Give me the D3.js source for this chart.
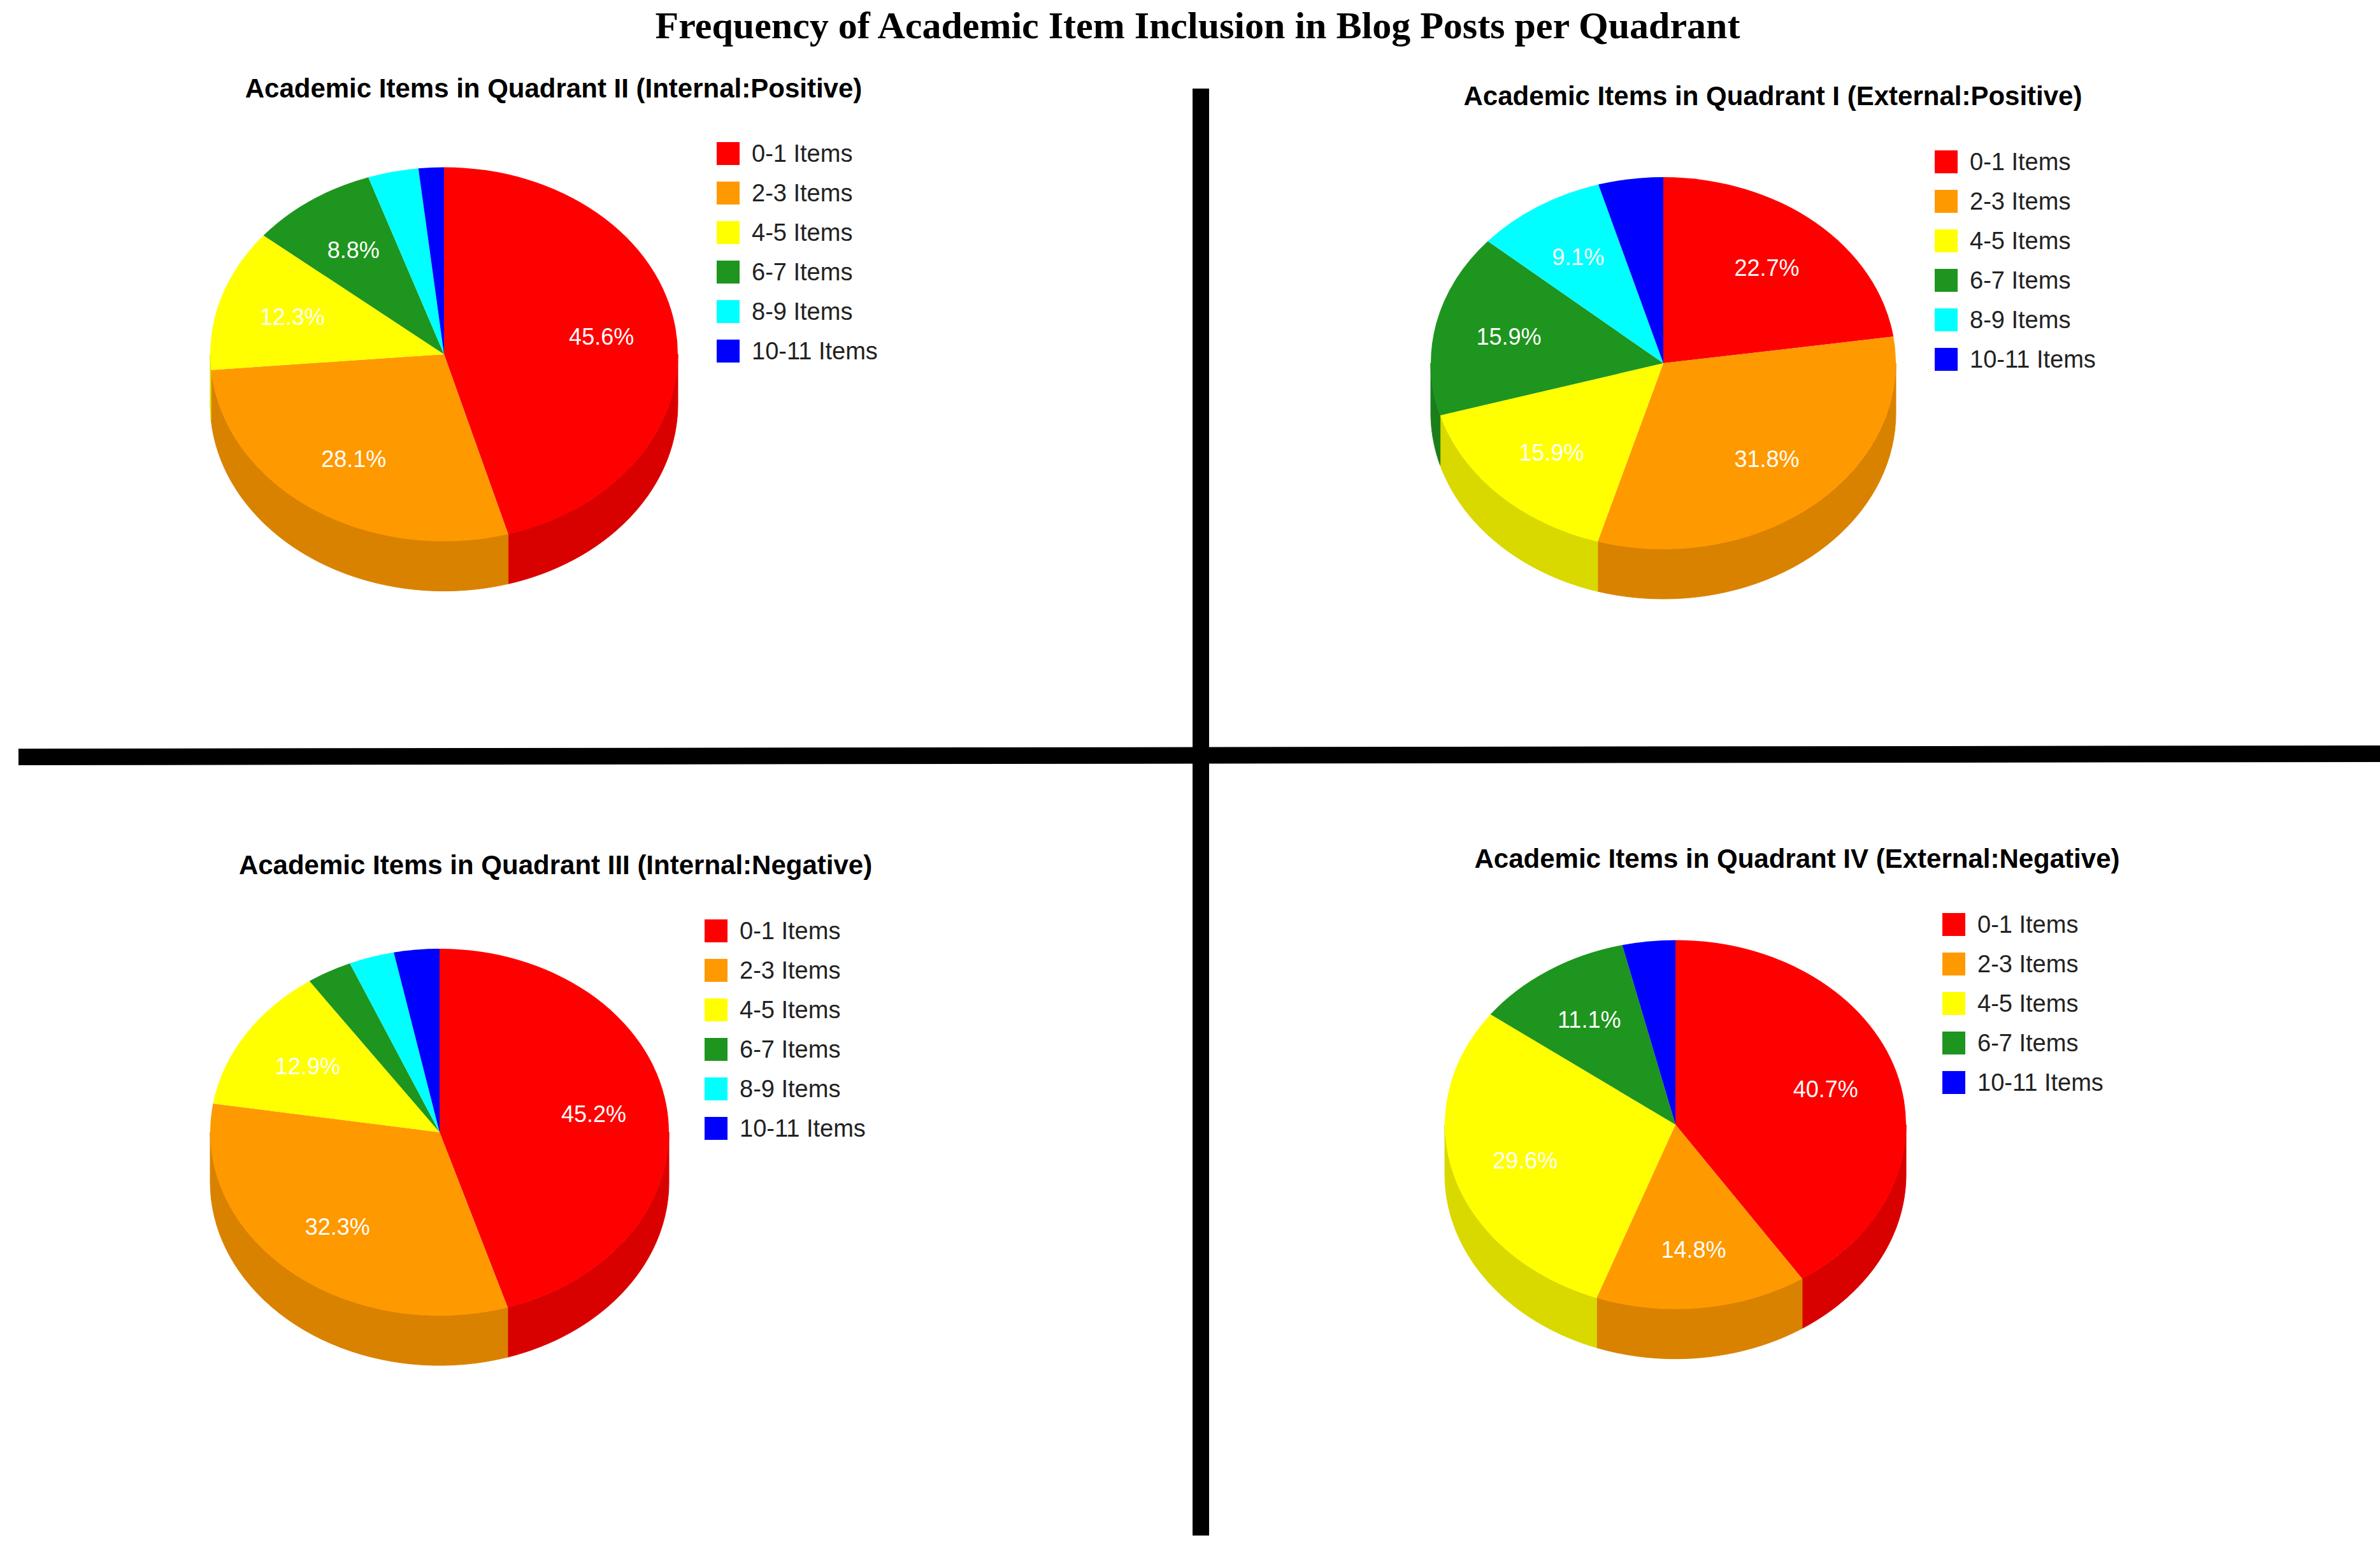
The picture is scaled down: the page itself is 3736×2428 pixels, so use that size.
<!DOCTYPE html>
<html><head><meta charset="utf-8">
<script src="https://cdn.jsdelivr.net/npm/d3@7"></script>
<style>body{margin:0;background:#fff}</style>
</head><body>
<script>
// chart values
const chartTitle = "Frequency of Academic Item Inclusion in Blog Posts per Quadrant";
const colorOf = {"0-1 Items":"#ff0000","2-3 Items":"#ff9900","4-5 Items":"#ffff00","6-7 Items":"#1e951e","8-9 Items":"#00ffff","10-11 Items":"#0000ff"};

const q2Labels = ["0-1 Items","2-3 Items","4-5 Items","6-7 Items","8-9 Items","10-11 Items"];
const q2Values = [45.6, 28.1, 12.3, 8.8, 3.5, 1.75];
const q1Labels = ["0-1 Items","2-3 Items","4-5 Items","6-7 Items","8-9 Items","10-11 Items"];
const q1Values = [22.7, 31.8, 15.9, 15.9, 9.1, 4.5];
const q3Labels = ["0-1 Items","2-3 Items","4-5 Items","6-7 Items","8-9 Items","10-11 Items"];
const q3Values = [45.2, 32.3, 12.9, 3.2, 3.2, 3.2];
const q4Labels = ["0-1 Items","2-3 Items","4-5 Items","6-7 Items","10-11 Items"];
const q4Values = [40.7, 14.8, 29.6, 11.1, 3.7];

const W = 3736, H = 2428;
const svg = d3.select("body").append("svg").attr("width", W).attr("height", H);

svg.append("text").attr("x", 1880).attr("y", 60).attr("text-anchor","middle")
  .attr("font-family","Liberation Serif, Times New Roman, serif").attr("font-weight","bold")
  .attr("font-size", 60).text(chartTitle);

// divider lines
svg.append("line").attr("x1",1885).attr("x2",1885).attr("y1",139).attr("y2",2410).attr("stroke","#000").attr("stroke-width",26);
svg.append("line").attr("x1",29).attr("x2",W).attr("y1",1188).attr("y2",1183).attr("stroke","#000").attr("stroke-width",26);

function drawPie(cfg) {
  const {title, labels, values, tx, ty, cx, cy, rx, legX, legY} = cfg;
  const ry = rx * 0.8, depth = 78;
  const g = svg.append("g");
  g.append("text").attr("x", tx).attr("y", ty).attr("text-anchor","middle")
    .attr("font-family","Liberation Sans, Arial, sans-serif").attr("font-weight","bold")
    .attr("font-size", 42).text(title);

  const data = labels.map((l, i) => ({label: l, value: values[i]}));
  const arcs = d3.pie().sort(null).value(d => d.value)(data);
  const total = d3.sum(values);
  const px = a => cx + rx * Math.sin(a);
  const py = a => cy - ry * Math.cos(a);
  const line = d3.line();

  // side walls (front half only)
  arcs.forEach(a => {
    const s = Math.max(a.startAngle, Math.PI/2), e = Math.min(a.endAngle, 3*Math.PI/2);
    if (e <= s) return;
    const n = 40, top = [];
    for (let k = 0; k <= n; k++) { const t = s + (e - s) * k / n; top.push([px(t), py(t)]); }
    const bottom = top.slice().reverse().map(p => [p[0], p[1] + depth]);
    g.append("path").attr("d", line(top.concat(bottom)) + "Z")
      .attr("fill", d3.color(colorOf[a.data.label]).darker(0.45))
      .attr("stroke", d3.color(colorOf[a.data.label]).darker(0.45)).attr("stroke-width",1);
  });

  // top face
  const arc = d3.arc().innerRadius(0).outerRadius(rx);
  const top = g.append("g").attr("transform", `translate(${cx},${cy}) scale(1,${ry/rx})`);
  top.selectAll("path").data(arcs).join("path").attr("d", arc)
    .attr("fill", d => colorOf[d.data.label]);

  const labArc = d3.arc().innerRadius(rx * 0.68).outerRadius(rx * 0.68);
  arcs.filter(a => a.data.value / total >= 0.05).forEach(a => {
    const c = labArc.centroid(a);
    g.append("text").attr("x", cx + c[0]).attr("y", cy + c[1] * ry / rx + 13)
      .attr("text-anchor","middle").attr("fill","#fff")
      .attr("font-family","Liberation Sans, Arial, sans-serif").attr("font-size",36)
      .text(a.data.value.toFixed(1) + "%");
  });

  // legend
  const leg = g.selectAll("g.leg").data(labels).join("g")
    .attr("transform", (d, i) => `translate(${legX},${legY + i * 62})`);
  leg.append("rect").attr("width",36).attr("height",36).attr("y",-18).attr("fill", d => colorOf[d]);
  leg.append("text").attr("x",55).attr("y",13).attr("font-family","Liberation Sans, Arial, sans-serif")
    .attr("font-size",38).attr("fill","#222").text(d => d);
}

drawPie({title:"Academic Items in Quadrant II (Internal:Positive)", labels:q2Labels, values:q2Values,
  tx:869, ty:153, cx:697, cy:556, rx:367, legX:1125, legY:241});
drawPie({title:"Academic Items in Quadrant I (External:Positive)", labels:q1Labels, values:q1Values,
  tx:2783, ty:165, cx:2611, cy:570, rx:365, legX:3037, legY:254});
drawPie({title:"Academic Items in Quadrant III (Internal:Negative)", labels:q3Labels, values:q3Values,
  tx:872, ty:1372, cx:690, cy:1777, rx:360, legX:1106, legY:1461});
drawPie({title:"Academic Items in Quadrant IV (External:Negative)", labels:q4Labels, values:q4Values,
  tx:2821, ty:1362, cx:2630, cy:1765, rx:362, legX:3049, legY:1451});
</script>
</body></html>
